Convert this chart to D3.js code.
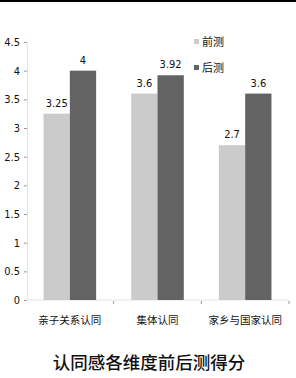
<!DOCTYPE html>
<html>
<head>
<meta charset="utf-8">
<script src="https://cdn.jsdelivr.net/npm/d3@7"></script>
<style>
  body { margin: 0; background: #fff; }
  svg { display: block; }
</style>
</head>
<body>
<script>
// chart data
var categories = ["亲子关系认同", "集体认同", "家乡与国家认同"];
var seriesNames = ["前测", "后测"];
var preTest = [3.25, 3.6, 2.7];
var postTest = [4, 3.92, 3.6];
var yTicks = [0, 0.5, 1, 1.5, 2, 2.5, 3, 3.5, 4, 4.5];
var colors = ["#cbcbcb", "#636363"];

var width = 296, height = 378;
var svg = d3.select("body").append("svg")
    .attr("width", width)
    .attr("height", height);

// black rule at top
svg.append("rect").attr("x", 0).attr("y", 0).attr("width", width).attr("height", 2).attr("fill", "#000");

var x0 = d3.scaleBand().domain(categories).range([26, 289]).paddingInner(0.4).paddingOuter(0.2);
var x1 = d3.scaleBand().domain(seriesNames).range([0, x0.bandwidth()]);
var y = d3.scaleLinear().domain([0, 4.5]).range([300, 42]);

var numFont = "'Liberation Sans Narrow', 'DejaVu Sans Condensed', sans-serif";

// y axis
var yAxis = svg.append("g").attr("transform", "translate(27,0)")
    .call(d3.axisLeft(y).tickValues(yTicks).tickSize(3).tickPadding(4).tickFormat(function(d) { return d; }));
yAxis.select(".domain").attr("stroke", "#e4e4e4");
yAxis.selectAll(".tick line").attr("stroke", "#999");
yAxis.selectAll("text").attr("font-family", numFont).attr("font-size", 11).attr("fill", "#111");

// x axis
var xAxis = svg.append("g").attr("transform", "translate(0,300)");
xAxis.append("line").attr("x1", 26).attr("x2", 289).attr("stroke", "#e4e4e4");
var bounds = categories.map(function(c) { return x0(c) + x0.bandwidth() + x0.step() * x0.paddingInner() / 2; });
xAxis.selectAll(".sep").data(bounds).enter().append("line")
    .attr("x1", function(d) { return d; }).attr("x2", function(d) { return d; })
    .attr("y1", 1).attr("y2", 4).attr("stroke", "#999");
xAxis.selectAll(".cat").data(categories).enter().append("text")
    .attr("x", function(d) { return x0(d) + x0.bandwidth() / 2; })
    .attr("y", 24)
    .attr("text-anchor", "middle")
    .attr("font-family", "'Noto Sans CJK SC', sans-serif")
    .attr("font-size", 10.5)
    .attr("fill", "#111")
    .text(function(d) { return d; });

// bars
var rows = categories.map(function(c, i) {
    return { cat: c, vals: [{ s: seriesNames[0], v: preTest[i], k: 0 }, { s: seriesNames[1], v: postTest[i], k: 1 }] };
});
var groups = svg.selectAll(".grp").data(rows).enter().append("g")
    .attr("transform", function(d) { return "translate(" + x0(d.cat) + ",0)"; });
groups.selectAll("rect").data(function(d) { return d.vals; }).enter().append("rect")
    .attr("x", function(d) { return x1(d.s); })
    .attr("y", function(d) { return y(d.v); })
    .attr("width", x1.bandwidth())
    .attr("height", function(d) { return y(0) - y(d.v); })
    .attr("fill", function(d) { return colors[d.k]; });
groups.selectAll(".val").data(function(d) { return d.vals; }).enter().append("text")
    .attr("x", function(d) { return x1(d.s) + x1.bandwidth() / 2; })
    .attr("y", function(d) { return y(d.v) - 7; })
    .attr("text-anchor", "middle")
    .attr("font-family", numFont)
    .attr("font-size", 11)
    .attr("fill", "#111")
    .text(function(d) { return d.v; });

// legend
var legend = svg.selectAll(".leg").data(seriesNames).enter().append("g")
    .attr("transform", function(d, i) { return "translate(194," + (42 + i * 26) + ")"; });
legend.append("rect").attr("x", 0).attr("y", -3).attr("width", 5).attr("height", 5)
    .attr("fill", function(d, i) { return colors[i]; });
legend.append("text").attr("x", 8).attr("y", 4)
    .attr("font-family", "'Noto Sans CJK SC', sans-serif")
    .attr("font-size", 11)
    .attr("fill", "#111")
    .text(function(d) { return d; });

// title
svg.append("text")
    .attr("x", 149).attr("y", 369)
    .attr("text-anchor", "middle")
    .attr("font-family", "'Noto Sans CJK SC', sans-serif")
    .attr("font-size", 17.5)
    .attr("font-weight", 500)
    .attr("fill", "#111")
    .text("认同感各维度前后测得分");
</script>
</body>
</html>
